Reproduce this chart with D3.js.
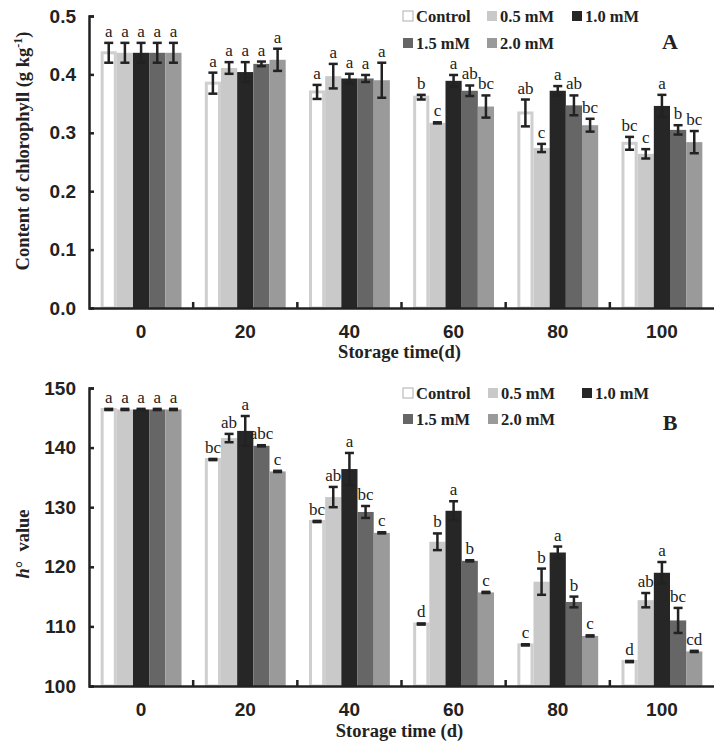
<!DOCTYPE html>
<html>
<head>
<meta charset="utf-8">
<script src="https://cdn.jsdelivr.net/npm/d3@7"></script>
<style>
  body { margin: 0; background: #fff; }
  svg { display: block; font-family: "Liberation Serif", "Times New Roman", serif; }
  .tick text { font-weight: bold; font-size: 19px; fill: #222; }
  .axis path, .axis line { stroke: #222; stroke-width: 2.5; }
</style>
</head>
<body>
<div id="chart"></div>
<script>
// storage days and treatments
const days = ["0", "20", "40", "60", "80", "100"];
const treatments = ["Control", "0.5 mM", "1.0 mM", "1.5 mM", "2.0 mM"];
const fills = ["#ffffff", "#c9c9c9", "#262626", "#666666", "#9a9a9a"];

// panel A: chlorophyll content, rows = treatments, columns = days
const chlMean = [
    [0.437, 0.385, 0.370, 0.361, 0.334, 0.282],
    [0.437, 0.411, 0.397, 0.317, 0.274, 0.264],
    [0.437, 0.404, 0.393, 0.389, 0.372, 0.346],
    [0.437, 0.418, 0.393, 0.372, 0.347, 0.305],
    [0.437, 0.425, 0.390, 0.345, 0.313, 0.284]
];
const chlErr = [
    [0.017, 0.018, 0.012, 0.004, 0.023, 0.011],
    [0.017, 0.010, 0.021, 0.001, 0.007, 0.008],
    [0.017, 0.017, 0.008, 0.010, 0.008, 0.019],
    [0.017, 0.004, 0.006, 0.009, 0.017, 0.008],
    [0.017, 0.019, 0.030, 0.019, 0.011, 0.019]
];
const chlLetters = [
    ["a", "a", "a", "b", "ab", "bc"],
    ["a", "a", "a", "c", "c", "c"],
    ["a", "a", "a", "a", "a", "a"],
    ["a", "a", "a", "ab", "ab", "b"],
    ["a", "a", "a", "bc", "bc", "bc"]
];
const chlTicks = [0, 0.1, 0.2, 0.3, 0.4, 0.5];

// panel B: hue angle
const hueMean = [
    [146.4, 138.0, 127.6, 110.4, 106.9, 104.1],
    [146.4, 141.6, 131.7, 124.2, 117.5, 114.4],
    [146.4, 142.8, 136.4, 129.4, 122.4, 119.0],
    [146.4, 140.3, 129.2, 121.0, 114.1, 111.0],
    [146.4, 136.0, 125.7, 115.7, 108.4, 105.8]
];
const hueErr = [
    [0.1, 0.1, 0.1, 0.1, 0.1, 0.1],
    [0.1, 0.7, 1.7, 1.4, 2.2, 1.2],
    [0.1, 2.5, 2.7, 1.6, 1.0, 1.8],
    [0.1, 0.1, 1.0, 0.1, 0.9, 2.1],
    [0.1, 0.1, 0.1, 0.1, 0.1, 0.1]
];
const hueLetters = [
    ["a", "bc", "bc", "d", "c", "d"],
    ["a", "ab", "ab", "b", "b", "ab"],
    ["a", "a", "a", "a", "a", "a"],
    ["a", "abc", "bc", "b", "b", "bc"],
    ["a", "c", "c", "c", "c", "cd"]
];
const hueTicks = [100, 110, 120, 130, 140, 150];

const svg = d3.select("#chart").append("svg")
    .attr("width", 714)
    .attr("height", 749);

var drawPanel = function(opt) {
    const left = 89, width = 625;
    const top = opt.top, height = opt.height;
    const g = svg.append("g").attr("transform", "translate(" + left + "," + top + ")");

    const x0 = d3.scaleBand().domain(days).range([0, width]);
    const x1 = d3.scaleBand().domain(treatments)
        .range([0, x0.bandwidth()])
        .paddingOuter(0.72);
    const y = d3.scaleLinear().domain(opt.domain).range([height, 0]);

    const rows = [];
    treatments.forEach(function(t, i) {
        days.forEach(function(d, j) {
            rows.push({day: d, trt: t, i: i, v: opt.mean[i][j], e: opt.err[i][j], l: opt.letters[i][j]});
        });
    });

    // bars
    g.selectAll(".bar").data(rows).enter().append("rect")
        .attr("x", d => x0(d.day) + x1(d.trt) + (d.i === 0 ? 1.5 : 0))
        .attr("y", d => y(d.v))
        .attr("width", d => x1.bandwidth() - (d.i === 0 ? 3 : 0))
        .attr("height", d => height - y(d.v))
        .attr("fill", d => fills[d.i])
        .attr("stroke", d => d.i === 0 ? "#cfcfcf" : "none")
        .attr("stroke-width", 3);

    // error bars
    const eb = g.selectAll(".err").data(rows).enter().append("g")
        .attr("transform", d => "translate(" + (x0(d.day) + x1(d.trt) + x1.bandwidth() / 2) + ",0)");
    eb.append("line")
        .attr("y1", d => y(d.v - d.e)).attr("y2", d => y(d.v + d.e))
        .attr("stroke", "#222").attr("stroke-width", 2.5);
    eb.append("line")
        .attr("x1", -4.5).attr("x2", 4.5)
        .attr("y1", d => y(d.v + d.e)).attr("y2", d => y(d.v + d.e))
        .attr("stroke", "#222").attr("stroke-width", 2.5);
    eb.append("line")
        .attr("x1", -4.5).attr("x2", 4.5)
        .attr("y1", d => y(d.v - d.e)).attr("y2", d => y(d.v - d.e))
        .attr("stroke", "#222").attr("stroke-width", 2.5);
    eb.append("text")
        .attr("y", d => y(d.v + d.e) - 6)
        .attr("text-anchor", "middle")
        .style("font-size", "17px")
        .attr("fill", "#222")
        .text(d => d.l);

    // axes
    g.append("g")
        .attr("class", "axis")
        .call(d3.axisLeft(y).tickValues(opt.ticks).tickFormat(opt.format)
            .tickSizeInner(-5).tickSizeOuter(-5).tickPadding(13));
    g.append("g")
        .attr("class", "axis")
        .attr("transform", "translate(0," + height + ")")
        .call(d3.axisBottom(x0).tickSizeInner(0).tickSizeOuter(0).tickPadding(17));
    g.selectAll(".sep").data(days.slice(1)).enter().append("line")
        .attr("x1", d => x0(d)).attr("x2", d => x0(d))
        .attr("y1", height).attr("y2", height - 6)
        .attr("stroke", "#222").attr("stroke-width", 2.5);

    g.append("text")
        .attr("x", width / 2 - 2)
        .attr("y", height + opt.xTitleDy)
        .attr("text-anchor", "middle")
        .style("font-size", "18.5px").style("font-weight", "bold").attr("fill", "#222")
        .text(opt.xTitle);

    // legend
    const lg = g.append("g").attr("transform", "translate(0," + opt.legendY + ")");
    treatments.forEach(function(t, i) {
        const lx = opt.legendX[i % 3] - left;
        const ly = Math.floor(i / 3) * opt.legendRow;
        lg.append("rect")
            .attr("x", lx).attr("y", ly - 5)
            .attr("width", 10).attr("height", 10)
            .attr("fill", fills[i])
            .attr("stroke", i === 0 ? "#bbb" : "none")
            .attr("stroke-width", 1.2);
        lg.append("text")
            .attr("x", lx + 13).attr("y", ly + 5.5)
            .style("font-size", "16.5px").style("font-weight", "bold").attr("fill", "#222")
            .text(t);
    });
    g.append("text")
        .attr("x", 670 - left).attr("y", opt.labelY)
        .attr("text-anchor", "middle")
        .style("font-size", "22px").style("font-weight", "bold").attr("fill", "#222")
        .text(opt.label);
    return g;
};

drawPanel({
    top: 16, height: 292, domain: [0, 0.5],
    mean: chlMean, err: chlErr, letters: chlLetters,
    ticks: chlTicks, format: d3.format(".1f"),
    xTitle: "Storage time(d)", xTitleDy: 50,
    legendY: 0, legendX: [403, 487, 572], legendRow: 27,
    label: "A", labelY: 49 - 16
});

drawPanel({
    top: 388, height: 298, domain: [100, 150],
    mean: hueMean, err: hueErr, letters: hueLetters,
    ticks: hueTicks, format: d3.format("d"),
    xTitle: "Storage time (d)", xTitleDy: 51,
    legendY: 5, legendX: [403, 488, 582], legendRow: 26,
    label: "B", labelY: 430 - 388
});

// y axis titles
svg.append("text")
    .attr("transform", "translate(29,151) rotate(-90)")
    .attr("text-anchor", "middle")
    .style("font-size", "18.5px").style("font-weight", "bold").attr("fill", "#222")
    .html("Content of chlorophyll (g kg<tspan dy='-7' font-size='12px'>-1</tspan><tspan dy='7'>)</tspan>");

svg.append("text")
    .attr("transform", "translate(29,544) rotate(-90)")
    .attr("text-anchor", "middle")
    .style("font-size", "18.5px").style("font-weight", "bold").attr("fill", "#222")
    .html("<tspan font-style='italic'>h</tspan>° &#160;value");
</script>
</body>
</html>
